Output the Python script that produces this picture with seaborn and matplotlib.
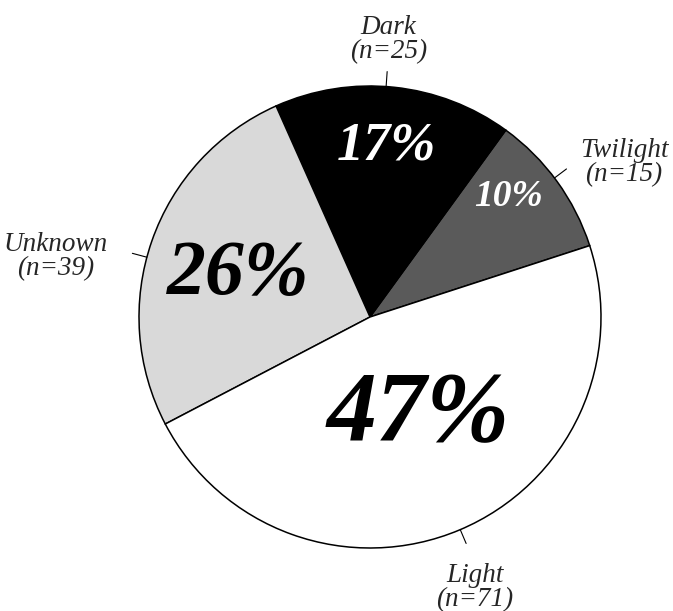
import matplotlib
matplotlib.use("Agg")
import matplotlib.pyplot as plt
import numpy as np
import seaborn as sns

sns.set_theme(style="white")
plt.rcParams['font.family'] = ['Liberation Serif', 'DejaVu Serif']

# data
categories = ["Twilight", "Dark", "Unknown", "Light"]
counts = [15, 25, 39, 71]
pct_labels = ["10%", "17%", "26%", "47%"]
colors = ["#5a5a5a", "#000000", "#d9d9d9", "#ffffff"]

# layout (data units, pie radius = 1)
pct_pos = [(0.60, 0.52), (0.07, 0.74), (-0.57, 0.18), (0.21, -0.43)]
pct_size = [27, 39, 56, 72]
pct_color = ["white", "white", "black", "black"]
lab_pos = [(1.10, 0.67), (0.08, 1.20), (-1.36, 0.26), (0.455, -1.17)]
lead_ang = [37, 86, 165, 293]

fig = plt.figure(figsize=(6.73, 6.11), dpi=100)
ax = fig.add_axes([0, 0, 1, 1])
wedges, _ = ax.pie(counts, colors=colors, startangle=18, counterclock=True,
                   wedgeprops=dict(edgecolor="black", linewidth=1.1))

for txt, (x, y), s, c in zip(pct_labels, pct_pos, pct_size, pct_color):
    ax.text(x, y, txt, ha="center", va="center", fontsize=s, color=c,
            style="italic", weight="bold")

for cat, n, (x, y), a in zip(categories, counts, lab_pos, lead_ang):
    ax.text(x, y, f"{cat}\n(n={n})", ha="center", va="center", fontsize=19.5,
            style="italic", linespacing=0.95)
    t = np.deg2rad(a)
    ax.plot([np.cos(t), 1.065 * np.cos(t)], [np.sin(t), 1.065 * np.sin(t)],
            color="black", lw=0.8)

ax.set_xlim(-370 / 231, 303 / 231)
ax.set_ylim(-294 / 231, 317 / 231)
ax.set_aspect("equal")
ax.axis("off")
fig.savefig("out.png", dpi=100)
